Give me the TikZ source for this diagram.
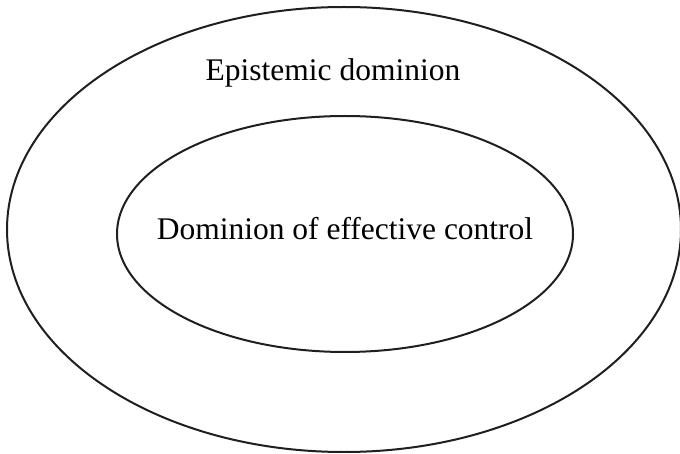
\documentclass[tikz,border=0pt]{standalone}
\usepackage{fontspec}
\setmainfont{Liberation Serif}
\begin{document}
\begin{tikzpicture}[x=1pt,y=-1pt,
  ring/.style={draw=black!88,line width=2pt},
  lbl/.style={font=\fontsize{31.5}{36}\selectfont,anchor=base,inner sep=0pt}]
\useasboundingbox (0,0) rectangle (680,454);
\draw[ring] (344,229.5) ellipse [x radius=337, y radius=222.5];
\draw[ring] (345,234) ellipse [x radius=228, y radius=118];
\node[lbl] (outer) at (333,81) {Epistemic dominion};
\node[lbl] (inner) at (345,240) {Dominion of effective control};
\end{tikzpicture}
\end{document}
